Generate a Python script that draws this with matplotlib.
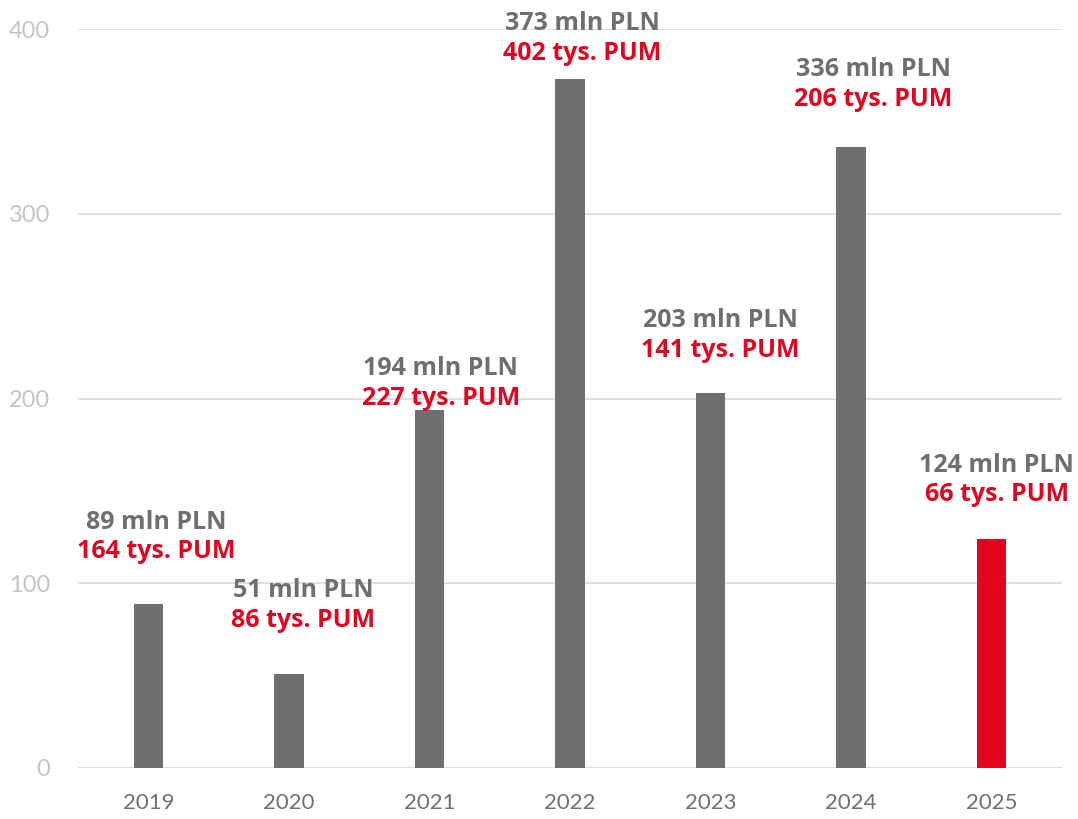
import matplotlib
matplotlib.use("Agg")
import matplotlib.pyplot as plt

years = ["2019", "2020", "2021", "2022", "2023", "2024", "2025"]
value_mln_pln = [89, 51, 194, 373, 203, 336, 124]
area_tys_pum = [164, 86, 227, 402, 141, 206, 66]
# vertical anchor (chart units) of the upper label line for each year
label_y = [133, 96, 216, 403, 242, 378, 164]
label_dx = [0.06, 0.10, 0.08, 0.09, 0.07, 0.16, 0.035]

GRAY = "#6f6f6f"
RED = "#e30520"
GRID = "#d9d9d9"

plt.rcParams["font.family"] = ["Open Sans", "DejaVu Sans"]

fig = plt.figure(figsize=(10.78, 8.19), dpi=100)
ax = fig.add_axes([78 / 1078, (819 - 768) / 819, (1062 - 78) / 1078, (768 - 29) / 819])

x = list(range(len(years)))
colors = [GRAY] * (len(years) - 1) + [RED]
ax.bar(x, value_mln_pln, width=0.21, color=colors, zorder=3)

ax.set_xlim(-0.5, len(years) - 0.5)
ax.set_ylim(0, 400)
ax.set_yticks([0, 100, 200, 300, 400])
ax.yaxis.grid(True, color=GRID, linewidth=1.2, zorder=0)
ax.set_axisbelow(True)
for s in ax.spines.values():
    s.set_visible(False)
ax.tick_params(axis="y", length=0, pad=20, labelcolor="#c4c4c4")
ax.tick_params(axis="x", length=0, pad=18, labelcolor="#707070")
ax.set_xticks(x)
ax.set_xticklabels(years)
for lab in ax.get_xticklabels():
    lab.set_fontfamily(["Lato", "DejaVu Sans"])
    lab.set_fontsize(16)
for lab in ax.get_yticklabels():
    lab.set_fontfamily(["Lato", "DejaVu Sans"])
    lab.set_fontsize(17)

for i in x:
    ax.text(i + label_dx[i], label_y[i], f"{value_mln_pln[i]} mln PLN",
            ha="center", va="center", fontsize=18, fontweight="bold",
            color=GRAY, zorder=4)
    ax.text(i + label_dx[i], label_y[i] - 16, f"{area_tys_pum[i]} tys. PUM",
            ha="center", va="center", fontsize=18, fontweight="bold",
            color=RED, zorder=4)

fig.savefig("out.png", dpi=100)
